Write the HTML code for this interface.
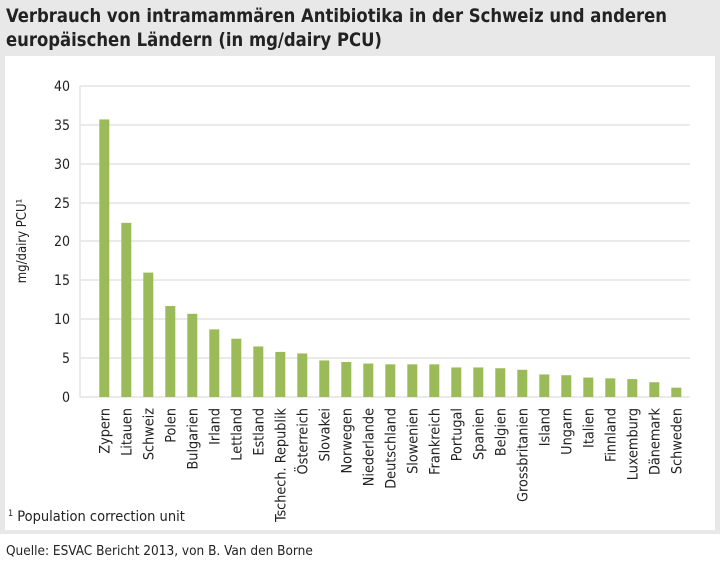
<!DOCTYPE html>
<html><head><meta charset="utf-8"><style>
body{margin:0;width:720px;height:560px;background:#fff;font-family:"DejaVu Sans Condensed","Liberation Sans Narrow","Liberation Sans",sans-serif;}
</style></head><body>
<svg width="720" height="560" xmlns="http://www.w3.org/2000/svg" font-family="DejaVu Sans Condensed, Liberation Sans Narrow, Liberation Sans, sans-serif">
<rect x="0" y="0" width="720" height="534" fill="#e8e8e8"/>
<rect x="5" y="56" width="710" height="474" fill="#fff"/>
<text x="6" y="22" font-size="18.3" font-weight="bold" fill="#222">Verbrauch von intramammären Antibiotika in der Schweiz und anderen</text>
<text x="6" y="46" font-size="18.3" font-weight="bold" fill="#222">europäischen Ländern (in mg/dairy PCU)</text>
<g stroke="#e4e4e4" stroke-width="1.5">
<line x1="80" x2="690" y1="86" y2="86"/><line x1="80" x2="690" y1="125" y2="125"/>
<line x1="80" x2="690" y1="164" y2="164"/><line x1="80" x2="690" y1="203" y2="203"/>
<line x1="80" x2="690" y1="241" y2="241"/><line x1="80" x2="690" y1="280" y2="280"/>
<line x1="80" x2="690" y1="319" y2="319"/><line x1="80" x2="690" y1="358" y2="358"/>
<line x1="80" x2="690" y1="397" y2="397"/><line x1="80" x2="80" y1="86" y2="397"/>
</g>
<g font-size="14" fill="#222" text-anchor="end">
<text x="70" y="91">40</text><text x="70" y="130">35</text><text x="70" y="169">30</text>
<text x="70" y="208">25</text><text x="70" y="246">20</text><text x="70" y="285">15</text>
<text x="70" y="324">10</text><text x="70" y="363">5</text><text x="70" y="402">0</text>
</g>
<text transform="translate(26,241) rotate(-90)" font-size="13" fill="#222" text-anchor="middle">mg/dairy PCU¹</text>
<g id="bars" fill="#9bbb59"></g>
<g id="labels" font-size="14.3" fill="#222"></g>
<text x="8" y="521" font-size="14.5" fill="#222"><tspan font-size="9" dy="-5">1</tspan><tspan dy="5"> Population correction unit</tspan></text>
<text x="6" y="555" font-size="13.5" fill="#222">Quelle: ESVAC Bericht 2013, von B. Van den Borne</text>
<script>
var d=[["Zypern",35.7],["Litauen",22.4],["Schweiz",16],["Polen",11.7],["Bulgarien",10.7],["Irland",8.7],["Lettland",7.5],["Estland",6.5],["Tschech. Republik",5.8],["Österreich",5.6],["Slovakei",4.7],["Norwegen",4.5],["Niederlande",4.3],["Deutschland",4.2],["Slowenien",4.2],["Frankreich",4.2],["Portugal",3.8],["Spanien",3.8],["Belgien",3.7],["Grossbritanien",3.5],["Island",2.9],["Ungarn",2.8],["Italien",2.5],["Finnland",2.4],["Luxemburg",2.3],["Dänemark",1.9],["Schweden",1.2]];
var ns="http://www.w3.org/2000/svg",b=document.getElementById("bars"),l=document.getElementById("labels");
d.forEach(function(e,i){var cx=104.3+i*22,h=e[1]*7.775;
var r=document.createElementNS(ns,"rect");r.setAttribute("x",cx-5);r.setAttribute("width",10);r.setAttribute("y",397-h);r.setAttribute("height",h);b.appendChild(r);
var t=document.createElementNS(ns,"text");t.setAttribute("text-anchor","end");t.setAttribute("transform","translate("+(cx+5)+",408) rotate(-90)");t.textContent=e[0];l.appendChild(t);});
</script>
</svg>
</body></html>
